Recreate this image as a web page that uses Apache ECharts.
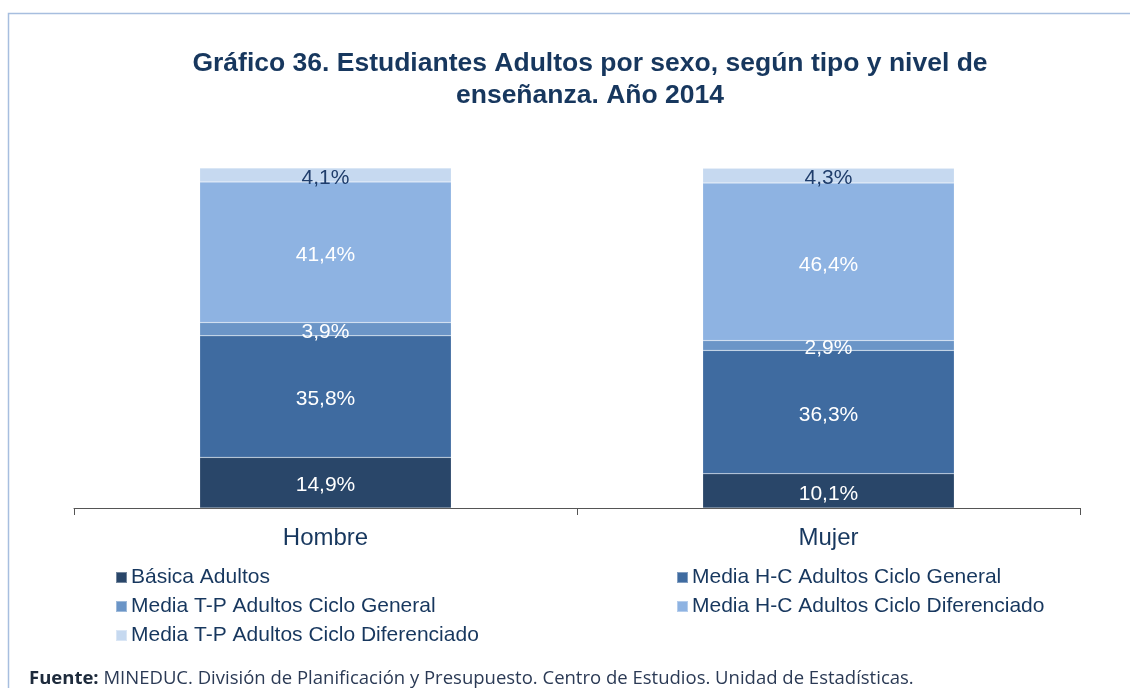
<!DOCTYPE html>
<html>
<head>
<meta charset="utf-8">
<script src="https://cdn.jsdelivr.net/npm/echarts@6/dist/echarts.min.js"></script>
<style>
  html, body { margin: 0; padding: 0; background: #fff; }
  #chart { width: 1130px; height: 688px; }
</style>
</head>
<body>
<div id="chart"></div>
<script>
// Categories (sex) and share of adult students by type and level of education, 2014 (%)
const categories = ['Hombre', 'Mujer'];
const seriesNames = [
  'Básica Adultos',
  'Media H-C Adultos Ciclo General',
  'Media T-P Adultos Ciclo General',
  'Media H-C Adultos Ciclo Diferenciado',
  'Media T-P Adultos Ciclo Diferenciado'
];
const basicaAdultos = [14.9, 10.1];
const hcGeneral = [35.8, 36.3];
const tpGeneral = [3.9, 2.9];
const hcDiferenciado = [41.4, 46.4];
const tpDiferenciado = [4.1, 4.3];

const seriesValues = [basicaAdultos, hcGeneral, tpGeneral, hcDiferenciado, tpDiferenciado];
const colors = ['#294669', '#3F6BA0', '#6B95C7', '#8EB3E2', '#C6D9F0'];
const labelColors = ['#fff', '#fff', '#fff', '#fff', '#1F3D6B'];

const textNavy = '#17375E';
const sansFont = '"Liberation Sans", Arial, sans-serif';
const chart = echarts.init(document.getElementById('chart'));

const fmt = v => v.toFixed(1).replace('.', ',') + '%';

const legendBase = {
  top: 567, orient: 'vertical', itemGap: 8, padding: 0,
  itemWidth: 11, itemHeight: 11, icon: 'rect',
  textStyle: { fontSize: 21, fontFamily: sansFont, color: textNavy, padding: [0, 0, 0, -1] }
};

chart.setOption({
  animation: false,
  color: colors,
  textStyle: { fontFamily: sansFont },
  title: {
    text: 'Gráfico 36. Estudiantes Adultos por sexo, según tipo y nivel de\nenseñanza. Año 2014',
    left: 585,
    top: 43,
    textAlign: 'center',
    textStyle: {
      fontFamily: sansFont,
      fontSize: 26.5,
      fontWeight: 'bold',
      color: textNavy,
      lineHeight: 32
    }
  },
  grid: { left: 74, right: 50, top: 168, bottom: 180 },
  xAxis: {
    type: 'category',
    data: categories,
    axisLine: { lineStyle: { color: '#555', width: 1 } },
    axisTick: { show: true, length: 7, lineStyle: { color: '#555' } },
    axisLabel: { fontSize: 24, fontFamily: sansFont, color: textNavy, margin: 18 }
  },
  yAxis: {
    type: 'value',
    min: 0,
    max: 100.1,
    show: false,
    splitLine: { show: false }
  },
  legend: [
    Object.assign({}, legendBase, {
      left: 115,
      data: [seriesNames[0], seriesNames[2], seriesNames[4]]
    }),
    Object.assign({}, legendBase, {
      left: 676,
      data: [seriesNames[1], seriesNames[3]]
    })
  ],
  graphic: [
    {
      type: 'polyline',
      shape: { points: [[8.5, 688], [8.5, 13.5], [1130, 13.5]] },
      style: { stroke: '#A7BEDF', lineWidth: 1.5, fill: null },
      silent: true
    },
    {
      type: 'text',
      left: 29,
      top: 669,
      style: {
        text: '{b|Fuente:} MINEDUC. División de Planificación y Presupuesto. Centro de Estudios. Unidad de Estadísticas.',
        rich: {
          b: { fontWeight: 'bold', fontSize: 18.5, fontFamily: '"Open Sans", sans-serif', fill: '#1E2B3C' }
        },
        fontSize: 18.5,
        fontFamily: '"Open Sans", sans-serif',
        fill: '#2B3A55'
      }
    }
  ],
  series: seriesNames.map((name, i) => ({
    name,
    type: 'bar',
    stack: 'total',
    barWidth: '50%',
    data: seriesValues[i],
    itemStyle: { color: colors[i], borderColor: 'rgba(255,255,255,0.35)', borderWidth: 0.5 },
    label: {
      show: true,
      position: 'inside',
      offset: [0, 3],
      fontSize: 21,
      fontFamily: sansFont,
      color: labelColors[i],
      formatter: p => fmt(p.value)
    }
  }))
});
</script>
</body>
</html>
